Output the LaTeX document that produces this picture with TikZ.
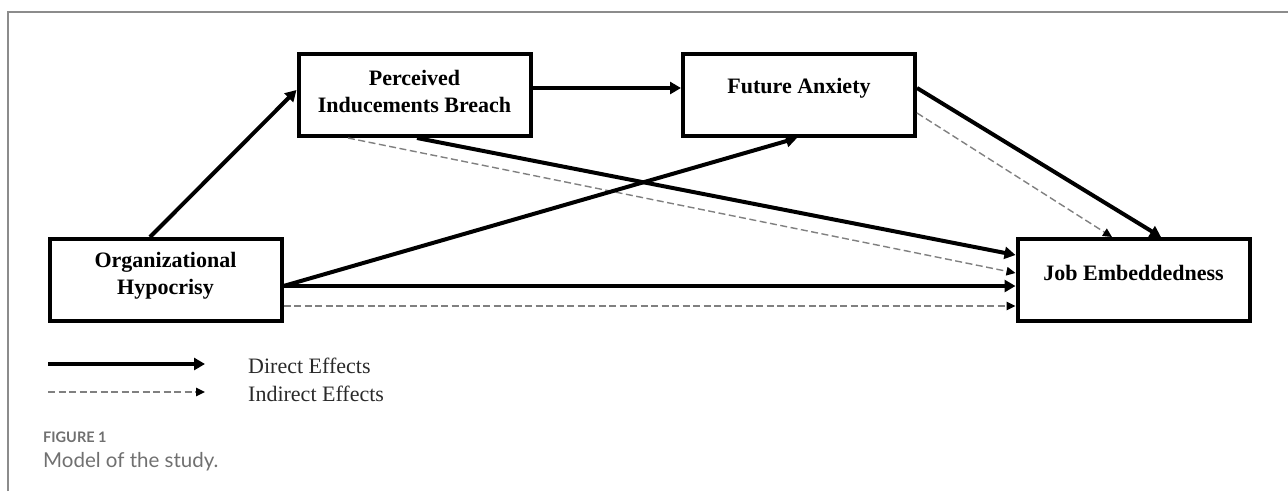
\documentclass[tikz,border=0pt]{standalone}
\usepackage{fontspec}
\setmainfont{Liberation Serif}
\newfontfamily\capfont{Lato}
\usetikzlibrary{arrows.meta}
\definecolor{framegray}{HTML}{8C8C8C}
\definecolor{capgray}{HTML}{707070}
\definecolor{dashgray}{HTML}{808080}
\definecolor{legtext}{HTML}{2A2A2A}
\tikzset{
  box/.style={draw=black, line width=4pt, minimum width=232pt, minimum height=82pt, inner sep=0pt, fill=white},
  lbl/.style={font=\fontsize{22}{27}\selectfont\bfseries, align=center, text=black, inner sep=0pt},
  direct/.style={line width=4pt, -{Triangle[length=11pt,width=12pt]}},
  indirect/.style={line width=1.4pt, draw=dashgray, dash pattern=on 7pt off 3.5pt, -{Triangle[length=9pt,width=8.5pt,color=black]}},
  legtxt/.style={font=\fontsize{22}{27}\selectfont, text=legtext, anchor=west, inner sep=0pt},
}
\begin{document}
\begin{tikzpicture}[x=1pt,y=-1pt]
\useasboundingbox (0,0) rectangle (1288,491);
% frame
\draw[framegray, line width=2pt] (8,491) -- (8,12) -- (1288,12);
% boxes
\node[box] (pib) at (414.5,95) {};
\node[box] (fa) at (799,95) {};
\node[box] (oh) at (165.5,280) {};
\node[box] (je) at (1133.5,280) {};
% labels
\node[lbl] (pibt) at (414.5,91) {Perceived\\Inducements Breach};
\node[lbl] (fat) at (799,88) {Future Anxiety};
\node[lbl] (oht) at (165.5,276) {Organizational\\Hypocrisy};
\node[lbl] (jet) at (1133.5,273) {Job Embeddedness};
% indirect
\draw[indirect] ([xshift=-66.5pt]pib.south) -- ([yshift=7pt]je.west);
\draw[indirect] ([yshift=-26pt]oh.east) -- ([yshift=-26pt]je.west);
\draw[indirect] ([yshift=-18pt]fa.east) -- ([xshift=-21.5pt]je.north);
% direct
\draw[direct] ([xshift=-15.5pt]oh.north) -- ([yshift=5pt]pib.west);
\draw[direct] ([yshift=7pt]pib.east) -- ([yshift=7pt]fa.west);
\draw[direct] ([xshift=2.5pt]pib.south) -- ([yshift=25pt]je.west);
\draw[direct] ([yshift=-6pt]oh.east) -- ([xshift=-2pt]fa.south);
\draw[direct] ([yshift=-6pt]oh.east) -- ([yshift=-6pt]je.west);
\draw[direct] ([yshift=7pt]fa.east) -- ([xshift=27.5pt]je.north);
% legend
\coordinate (l1a) at (48,364);
\coordinate (l1b) at (205,364);
\coordinate (l2a) at (48,392);
\coordinate (l2b) at (205,392);
\draw[direct] (l1a) -- (l1b);
\draw[indirect] (l2a) -- (l2b);
\node[legtxt] (dtxt) at (248,366) {Direct Effects};
\node[legtxt] (itxt) at (248,394) {Indirect Effects};
% caption
\node[anchor=west, inner sep=0pt, text=capgray, font=\capfont\bfseries\fontsize{14.5}{17}\selectfont] (fig) at (43,437) {FIGURE 1};
\node[anchor=west, inner sep=0pt, text=capgray, font=\capfont\fontsize{20.5}{24}\selectfont] (cap) at (43,462) {Model of the study.};
\end{tikzpicture}
\end{document}
